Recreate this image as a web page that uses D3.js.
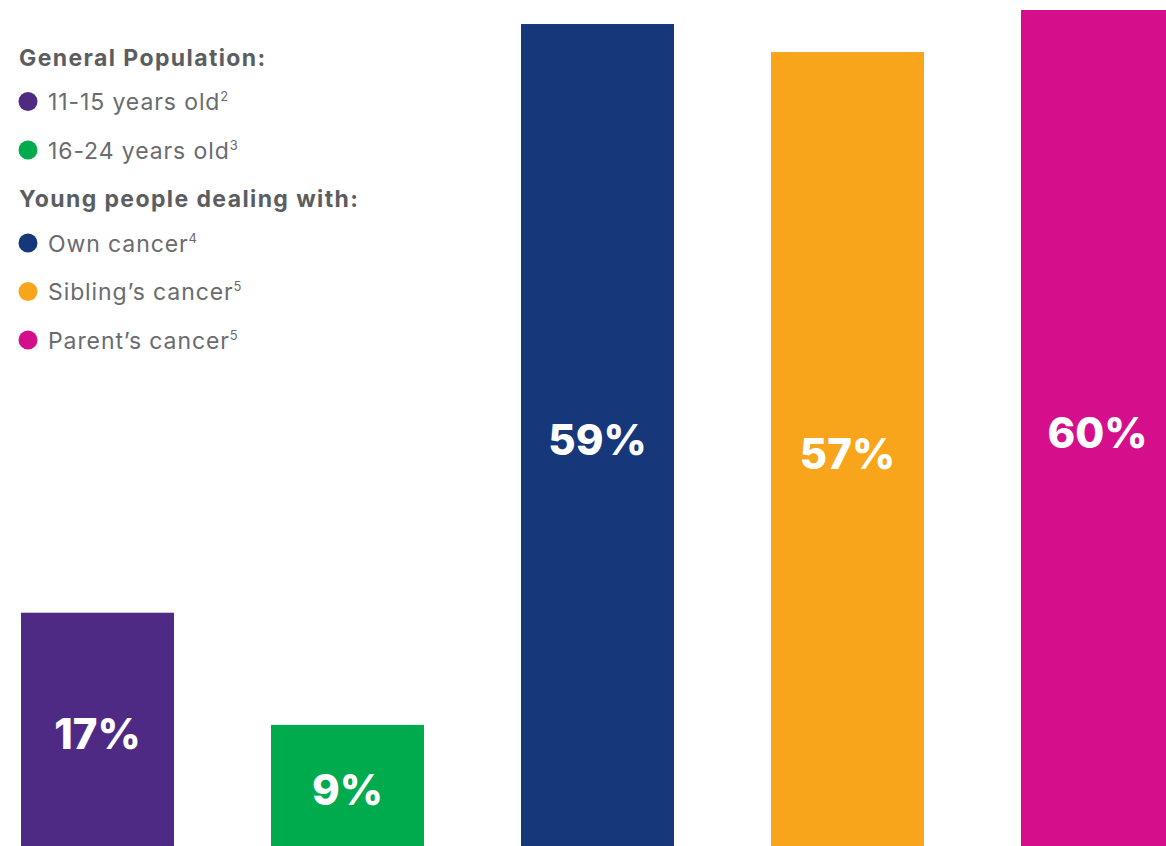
<!DOCTYPE html>
<html>
<head>
<meta charset="utf-8">
<script src="https://cdn.jsdelivr.net/npm/d3@7"></script>
<style>
  body { margin: 0; background: #fff; overflow: hidden; }
  svg { display: block; }
</style>
</head>
<body>
<div id="chart"></div>
<script>
// chart data
const categories = ["11-15 years old", "16-24 years old", "Own cancer", "Sibling\u2019s cancer", "Parent\u2019s cancer"];
const footnotes = ["2", "3", "4", "5", "5"];
const values = [17, 9, 59, 57, 60];
const colors = ["#4e2a84", "#00ab4e", "#16387b", "#f9a51b", "#d50f8c"];
const groupTitles = ["General Population:", "Young people dealing with:"];
const groupOf = [0, 0, 1, 1, 1];

const width = 1166, height = 846;

const svg = d3.select("#chart").append("svg")
    .attr("width", width)
    .attr("height", height);

// scales
const x = d3.scaleBand()
    .domain(categories)
    .range([21, 1174])
    .paddingInner(0.388)
    .paddingOuter(0);

const y = d3.scaleLinear()
    .domain([0, 60])
    .range([851, 10]);

// bars
svg.append("g").selectAll("rect")
    .data(categories)
    .enter().append("rect")
    .attr("x", d => x(d))
    .attr("y", (d, i) => y(values[i]))
    .attr("width", x.bandwidth())
    .attr("height", (d, i) => y(0) - y(values[i]))
    .attr("fill", (d, i) => colors[i]);

// value labels in the middle of each bar
svg.append("g").selectAll("text")
    .data(categories)
    .enter().append("text")
    .attr("x", d => x(d) + x.bandwidth() / 2)
    .attr("y", (d, i) => (y(values[i]) + y(0)) / 2 + 17)
    .attr("text-anchor", "middle")
    .attr("fill", "#fff")
    .style("font-family", "Inter, 'Open Sans', sans-serif")
    .style("font-weight", 800)
    .style("font-size", "42px")
    .text((d, i) => values[i] + "%");

// legend rows: header, items, header, items
let rows = [];
groupTitles.forEach((t, g) => {
    rows.push({type: "header", text: t});
    categories.forEach((c, i) => {
        if (groupOf[i] === g) rows.push({type: "item", text: c, i: i});
    });
});
let cy = 57;
rows.forEach(r => {
    r.y = cy;
    cy += (r.type === "header") ? 44.5 : 48.5;
});

const legend = svg.append("g")
    .style("font-family", "Inter, 'Open Sans', sans-serif");

legend.selectAll(".legend-header")
    .data(rows.filter(r => r.type === "header"))
    .enter().append("text")
    .attr("class", "legend-header")
    .attr("x", 19)
    .attr("y", d => d.y + 8.5)
    .attr("fill", "#5c5d61")
    .style("font-weight", 700)
    .style("font-size", "23px")
    .style("letter-spacing", "1.4px")
    .text(d => d.text);

const items = legend.selectAll(".legend-item")
    .data(rows.filter(r => r.type === "item"))
    .enter().append("g")
    .attr("class", "legend-item")
    .attr("transform", d => `translate(0, ${d.y})`);

items.append("circle")
    .attr("cx", 28)
    .attr("cy", 0)
    .attr("r", 9.5)
    .attr("fill", d => colors[d.i]);

const label = items.append("text")
    .attr("x", 48)
    .attr("y", 8.5)
    .attr("fill", "#6a6b6e")
    .style("font-weight", 400)
    .style("font-size", "23px")
    .style("letter-spacing", "0.9px");

label.append("tspan").text(d => d.text);
label.append("tspan")
    .attr("dy", -9)
    .style("font-size", "13px")
    .style("letter-spacing", "0px")
    .text(d => footnotes[d.i]);
</script>
</body>
</html>
